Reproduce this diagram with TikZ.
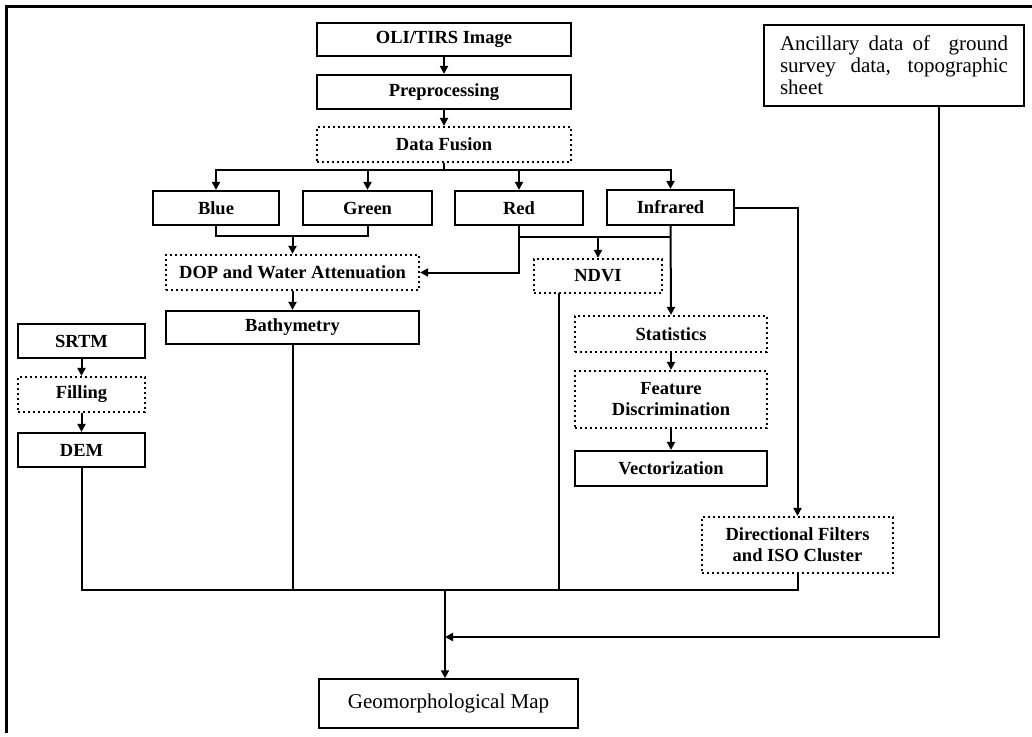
\documentclass[tikz,border=0pt]{standalone}
\usepackage{fontspec}
\setmainfont{Liberation Serif}
\usetikzlibrary{arrows.meta}
\begin{document}
\begin{tikzpicture}[x=1pt,y=-1pt,
  solidbox/.style={draw, line width=2.2pt, inner sep=0pt, align=center, font=\bfseries\fontsize{18.5}{21}\selectfont},
  dotbox/.style={solidbox, dash pattern=on 2.4pt off 2.6pt},
  thinbox/.style={draw, line width=1.5pt, inner sep=0pt, font=\fontsize{21}{22}\selectfont},
  conn/.style={line width=2pt},
  arr/.style={conn, -{Triangle[length=8pt,width=8pt]}},
  frameline/.style={line width=3pt}]
\useasboundingbox (0,0) rectangle (1032,736);
% frame
\draw[frameline] (6,733) -- (6,6) -- (1032,6);

% nodes
\node[solidbox, minimum width=254pt, minimum height=33pt] (oli) at (444,39.5) {OLI/TIRS Image};
\node[solidbox, minimum width=254pt, minimum height=34pt] (pre) at (444,92) {Preprocessing};
\node[dotbox, minimum width=254pt, minimum height=35pt] (fus) at (444,144.5) {Data Fusion};
\node[solidbox, minimum width=126pt, minimum height=34pt] (blue) at (216,208) {Blue};
\node[solidbox, minimum width=129pt, minimum height=34pt] (green) at (367.5,208) {Green};
\node[solidbox, minimum width=128pt, minimum height=34pt] (red) at (519,208) {Red};
\node[solidbox, minimum width=127pt, minimum height=35pt] (infra) at (670.5,207.5) {Infrared};
\node[dotbox, minimum width=253pt, minimum height=35pt] (dop) at (292.5,272.5) {DOP and Water Attenuation};
\node[dotbox, minimum width=128pt, minimum height=34pt] (ndvi) at (598,276) {NDVI};
\node[solidbox, minimum width=253pt, minimum height=33pt] (bathy) at (292.5,327.5) {Bathymetry};
\node[solidbox, minimum width=127pt, minimum height=34pt] (srtm) at (81.5,341) {SRTM};
\node[dotbox, minimum width=127pt, minimum height=35pt] (fill) at (81.5,394.5) {Filling};
\node[solidbox, minimum width=127pt, minimum height=34pt] (dem) at (81.5,450) {DEM};
\node[dotbox, minimum width=192pt, minimum height=36pt] (stat) at (671,334) {Statistics};
\node[dotbox, minimum width=192pt, minimum height=57pt] (feat) at (671,399.5) {Feature\\Discrimination};
\node[solidbox, minimum width=192pt, minimum height=35pt] (vect) at (671,468.5) {Vectorization};
\node[dotbox, minimum width=191pt, minimum height=56pt] (dir) at (797.5,545) {Directional Filters\\and ISO Cluster};
\node[thinbox, text width=228pt, align=justify, inner xsep=16pt, minimum height=81pt] (anc) at (894,65.5)
  {Ancillary data of\ \ ground\linebreak survey data, topographic\linebreak sheet\par\vspace*{10pt}};
\node[thinbox, minimum width=259pt, minimum height=49pt] (geo) at (448.5,703.5) {Geomorphological Map};

% coordinates
\coordinate (bus1) at (444,170);
\coordinate (bg) at (292.5,236);
\coordinate (rn) at (519,237);
\coordinate (bus2) at (445,590);
\coordinate (ancout) at (939,106);
\coordinate (ndviout) at (559,293);
\coordinate (merge) at (445,637);

% top chain
\draw[arr] (oli) -- (pre);
\draw[arr] (pre) -- (fus);
\draw[conn] (fus.south) -- (bus1);
\draw[arr] (bus1) -| (blue.north);
\draw[arr] (bus1) -| (infra.north);
\draw[arr] (green.north |- bus1) -- (green.north);
\draw[arr] (red.north |- bus1) -- (red.north);

% blue / green to DOP
\draw[conn] (blue.south) |- (bg) -| (green.south);
\draw[arr] (bg) -- (dop.north);
\draw[arr] (red.south) |- (dop.east);
\draw[arr] (dop) -- (bathy);

% red / infrared to NDVI
\draw[conn] (rn) -- (infra.south |- rn);
\draw[arr] (ndvi.north |- rn) -- (ndvi.north);
\draw[arr] (infra.south) -- (stat.north);
\draw[arr] (stat) -- (feat);
\draw[arr] (feat) -- (vect);
\draw[arr] (infra.east) -| (dir.north);

% SRTM chain
\draw[arr] (srtm) -- (fill);
\draw[arr] (fill) -- (dem);

% bottom bus
\draw[conn] (dem.south) |- (bus2 -| dir.south) -- (dir.south);
\draw[conn] (bathy.south) -- (bathy.south |- bus2);
\draw[conn] (ndviout) -- (ndviout |- bus2);
\draw[arr] (bus2) -- (bus2 |- geo.north);
\draw[arr] (ancout) |- (merge);
\end{tikzpicture}
\end{document}
